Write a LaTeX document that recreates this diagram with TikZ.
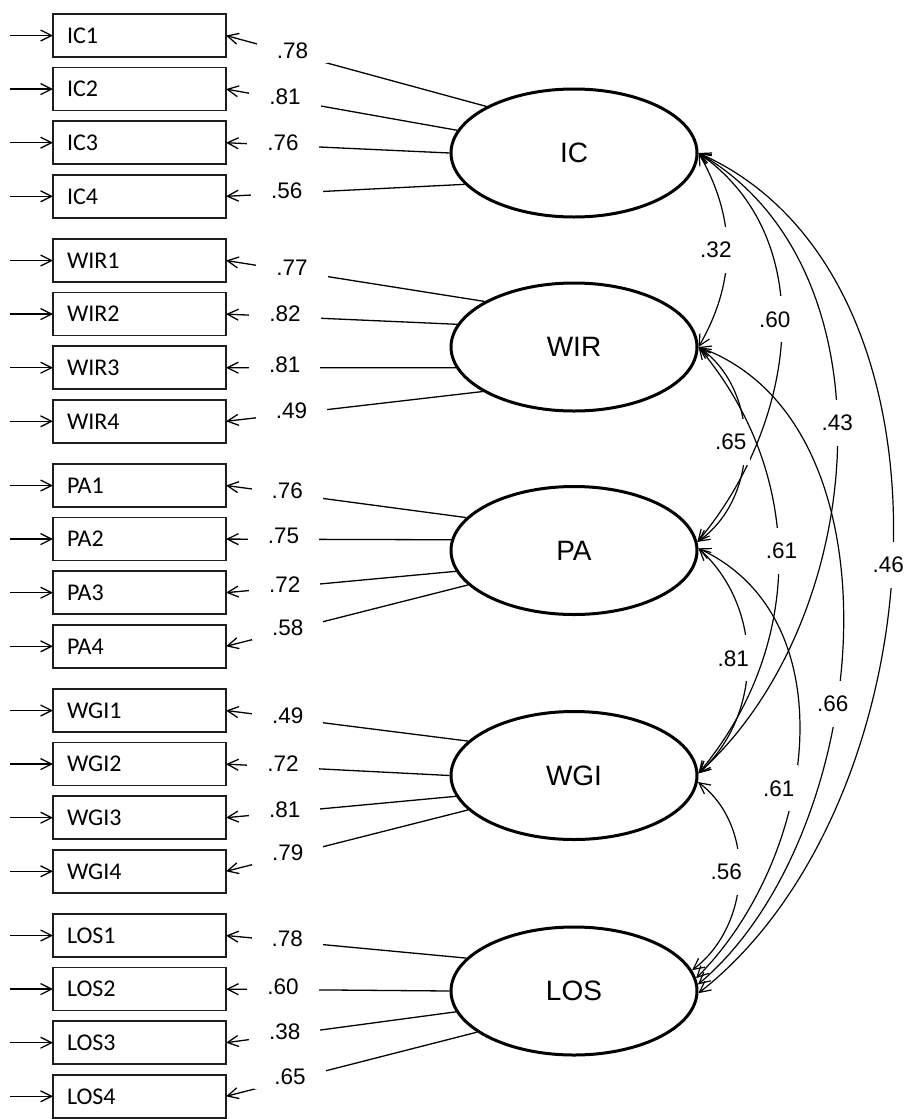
\documentclass[tikz,border=0pt]{standalone}
\usepackage{fontspec}
\setmainfont{Liberation Sans}
\newfontfamily\itemfont{Carlito}
\usepackage{tikz}
\usetikzlibrary{
  arrows.meta,
  positioning,
  shapes.geometric
}
\definecolor{ink}{HTML}{000000}
\definecolor{paper}{HTML}{FFFFFF}
\definecolor{frame}{HTML}{1E1E1E}
\tikzset{
  >={Straight Barb[length=11pt,width=11pt]},
  item/.style={
    draw=frame,
    line width=1.6pt,
    outer sep=0pt,
    text width=145pt,
    inner xsep=14pt,
    minimum height=43pt,
    align=left,
    font=\itemfont\fontsize{24}{28}\selectfont
  },
  latent/.style={
    ellipse,
    draw=ink,
    line width=3pt,
    minimum width=246pt,
    minimum height=128pt,
    font=\fontsize{28}{32}\selectfont
  },
  loading/.style={
    ->,
    line width=1.3pt,
    draw=ink
  },
  error/.style={
    ->,
    line width=1.3pt,
    draw=ink
  },
  covar/.style={
    <->,
    line width=1.2pt,
    draw=ink
  },
  coef/.style={
    fill=paper,
    inner xsep=20pt,
    inner ysep=4pt,
    yshift=3pt,
    font=\fontsize{22.5}{26}\selectfont
  },
  arclabel/.style={
    fill=paper,
    inner xsep=4pt,
    inner ysep=15pt,
    font=\fontsize{22.5}{26}\selectfont
  }
}
\begin{document}
\begin{tikzpicture}[x=1pt, y=1pt, node distance=10.6pt]
  \fill[paper] (0,0) rectangle (910,-1119);
  \useasboundingbox (0,0) rectangle (910,-1119);

  % indicators
  \node[item] (IC1) at (139.5,-35.5) {IC1};
  \node[item, below=of IC1] (IC2) {IC2};
  \node[item, below=of IC2] (IC3) {IC3};
  \node[item, below=of IC3] (IC4) {IC4};
  \node[item, below=21.2pt of IC4] (WIR1) {WIR1};
  \node[item, below=of WIR1] (WIR2) {WIR2};
  \node[item, below=of WIR2] (WIR3) {WIR3};
  \node[item, below=of WIR3] (WIR4) {WIR4};
  \node[item, below=21.2pt of WIR4] (PA1) {PA1};
  \node[item, below=of PA1] (PA2) {PA2};
  \node[item, below=of PA2] (PA3) {PA3};
  \node[item, below=of PA3] (PA4) {PA4};
  \node[item, below=21.2pt of PA4] (WGI1) {WGI1};
  \node[item, below=of WGI1] (WGI2) {WGI2};
  \node[item, below=of WGI2] (WGI3) {WGI3};
  \node[item, below=of WGI3] (WGI4) {WGI4};
  \node[item, below=21.2pt of WGI4] (LOS1) {LOS1};
  \node[item, below=of LOS1] (LOS2) {LOS2};
  \node[item, below=of LOS2] (LOS3) {LOS3};
  \node[item, below=of LOS3] (LOS4) {LOS4};

  % factors
  \node[latent] (IC) at (574,-153) {IC};
  \node[latent] (WIR) at (574,-347) {WIR};
  \node[latent] (PA) at (574,-550.5) {PA};
  \node[latent] (WGI) at (574,-775.5) {WGI};
  \node[latent] (LOS) at (574,-991) {LOS};

  % error terms
  \draw[error] ([xshift=-43pt]IC1.west) -- (IC1.west);
  \draw[error] ([xshift=-43pt]IC2.west) -- (IC2.west);
  \draw[error] ([xshift=-43pt]IC3.west) -- (IC3.west);
  \draw[error] ([xshift=-43pt]IC4.west) -- (IC4.west);
  \draw[error] ([xshift=-43pt]WIR1.west) -- (WIR1.west);
  \draw[error] ([xshift=-43pt]WIR2.west) -- (WIR2.west);
  \draw[error] ([xshift=-43pt]WIR3.west) -- (WIR3.west);
  \draw[error] ([xshift=-43pt]WIR4.west) -- (WIR4.west);
  \draw[error] ([xshift=-43pt]PA1.west) -- (PA1.west);
  \draw[error] ([xshift=-43pt]PA2.west) -- (PA2.west);
  \draw[error] ([xshift=-43pt]PA3.west) -- (PA3.west);
  \draw[error] ([xshift=-43pt]PA4.west) -- (PA4.west);
  \draw[error] ([xshift=-43pt]WGI1.west) -- (WGI1.west);
  \draw[error] ([xshift=-43pt]WGI2.west) -- (WGI2.west);
  \draw[error] ([xshift=-43pt]WGI3.west) -- (WGI3.west);
  \draw[error] ([xshift=-43pt]WGI4.west) -- (WGI4.west);
  \draw[error] ([xshift=-43pt]LOS1.west) -- (LOS1.west);
  \draw[error] ([xshift=-43pt]LOS2.west) -- (LOS2.west);
  \draw[error] ([xshift=-43pt]LOS3.west) -- (LOS3.west);
  \draw[error] ([xshift=-43pt]LOS4.west) -- (LOS4.west);

  % loadings
  \draw[loading] (IC.152.5) -- node[coef, pos=0.745] {.78} (IC1.east);
  \draw[loading] (IC.169) -- node[coef, pos=0.745] {.81} (IC2.east);
  \draw[loading] (IC.180) -- node[coef, pos=0.745] {.76} (IC3.east);
  \draw[loading] (IC.196) -- node[coef, pos=0.745] {.56} (IC4.east);
  \draw[loading] (WIR.153) -- node[coef, pos=0.745] {.77} (WIR1.east);
  \draw[loading] (WIR.169.5) -- node[coef, pos=0.745] {.82} (WIR2.east);
  \draw[loading] (WIR.190) -- node[coef, pos=0.745] {.81} (WIR3.east);
  \draw[loading] (WIR.206.5) -- node[coef, pos=0.745] {.49} (WIR4.east);
  \draw[loading] (PA.163) -- node[coef, pos=0.745] {.76} (PA1.east);
  \draw[loading] (PA.175) -- node[coef, pos=0.745] {.75} (PA2.east);
  \draw[loading] (PA.190.5) -- node[coef, pos=0.745] {.72} (PA3.east);
  \draw[loading] (PA.198) -- node[coef, pos=0.745] {.58} (PA4.east);
  \draw[loading] (WGI.162.5) -- node[coef, pos=0.745] {.49} (WGI1.east);
  \draw[loading] (WGI.180) -- node[coef, pos=0.745] {.72} (WGI2.east);
  \draw[loading] (WGI.190.5) -- node[coef, pos=0.745] {.81} (WGI3.east);
  \draw[loading] (WGI.198.5) -- node[coef, pos=0.745] {.79} (WGI4.east);
  \draw[loading] (LOS.163) -- node[coef, pos=0.745] {.78} (LOS1.east);
  \draw[loading] (LOS.180) -- node[coef, pos=0.745] {.60} (LOS2.east);
  \draw[loading] (LOS.190) -- node[coef, pos=0.745] {.38} (LOS3.east);
  \draw[loading] (LOS.203) -- node[coef, pos=0.745] {.65} (LOS4.east);

  % factor correlations
  \draw[covar] (IC.east) to[out=-60, in=60]
    node[arclabel, pos=0.5, xshift=-11pt] {.32} (WIR.east);
  \draw[covar] (IC.east) to[out=-35, in=50]
    node[arclabel, pos=0.46, xshift=-7pt] {.60} (PA.4);
  \draw[covar] (IC.east) to[out=-30, in=42, looseness=0.95]
    node[arclabel, pos=0.465] {.43} (WGI.1);
  \draw[covar] (IC.east) to[out=-24, in=38, looseness=0.93]
    node[arclabel, pos=0.515, xshift=-4pt] {.46} (LOS.-1);
  \draw[covar] (WIR.east) to[out=-35, in=35]
    node[arclabel, pos=0.49, xshift=-14pt] {.65} (PA.4);
  \draw[covar] (WIR.east) to[out=-50, in=50]
    node[arclabel, pos=0.48, xshift=3pt] {.61} (WGI.1);
  \draw[covar] (WIR.east) to[out=-20, in=40, looseness=0.91]
    node[arclabel, pos=0.58, xshift=-4pt] {.66} (LOS.3);
  \draw[covar] (PA.1) to[out=-42, in=42]
    node[arclabel, pos=0.49, xshift=-14pt] {.81} (WGI.1);
  \draw[covar] (PA.1) to[out=-25, in=45]
    node[arclabel, pos=0.585, xshift=-15pt] {.61} (LOS.6);
  \draw[covar] (WGI.-3) to[out=-37, in=37]
    node[arclabel, pos=0.48, xshift=-13pt] {.56} (LOS.10);
\end{tikzpicture}
\end{document}
